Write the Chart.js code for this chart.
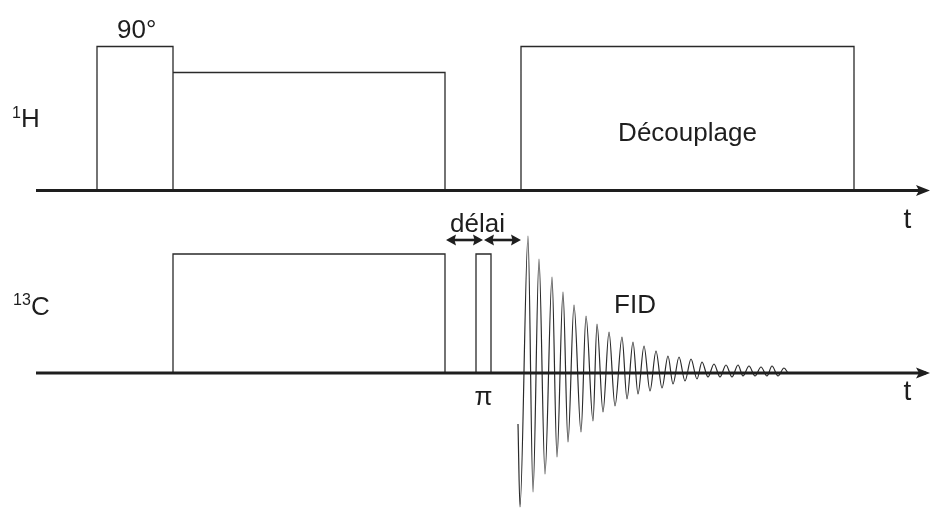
<!DOCTYPE html>
<html>
<head>
<meta charset="utf-8">
<script src="https://cdn.jsdelivr.net/npm/chart.js@4"></script>
<style>
  html, body { margin: 0; padding: 0; background: #fff; }
  #seq { display: block; }
</style>
</head>
<body>
<canvas id="seq" width="932" height="512"></canvas>
<script>
// time axis (arbitrary units)
const axisRange = [36, 926];

// 1H channel pulses
const hPulseStart = [97, 173, 521];
const hPulseEnd = [173, 445, 854];
const hPulseAmp = [144, 118, 144];

// 13C channel pulses (long pulse + pi pulse)
const cPulseStart = [173, 476];
const cPulseEnd = [445, 491];
const cPulseAmp = [119, 119];

// FID: extrema
const fidTime = [518, 520, 528, 533, 539, 545, 552, 557, 563, 568, 574, 581, 586, 593, 597, 603,
  609, 615, 622, 627, 633, 638, 644, 650, 656, 662, 668, 673, 679, 685, 691, 697, 702, 708,
  714, 720, 726, 732, 738, 743, 749, 755, 761, 767, 772, 778, 784, 788];
const fidAmp = [-51, -134, 137, -119, 114, -101, 96, -84, 81, -69, 68, -59, 57, -48, 49, -39,
  41, -33, 36, -26, 31, -21, 27, -18, 22, -15, 17, -11, 16, -8, 14, -6, 11, -4,
  9, -4, 8, -4, 8, -3, 7, -3, 6, -3, 7, -3, 5, 0];

// délai arrows (start, end)
const delayStart = [446, 484];
const delayEnd = [483, 521];

const INK = '#1e1e1e';
const FONT = '"Liberation Sans", Arial, sans-serif';

function pulsePoints(starts, ends, amps) {
  const pts = [];
  starts.forEach((s, i) => {
    pts.push({x: s, y: 0}, {x: s, y: amps[i]}, {x: ends[i], y: amps[i]}, {x: ends[i], y: 0});
    pts.push({x: ends[i], y: null});
  });
  return pts;
}

const labels = [
  {text: '90°', t: 136.7, v: 152.5, axis: 'yH', size: 26, align: 'center'},
  {text: 'Découplage', t: 687.5, v: 49.5, axis: 'yH', size: 26, align: 'center'},
  {text: 'H', t: 21, v: 63.5, axis: 'yH', size: 26, align: 'left'},
  {text: '1', t: 12, v: 72.5, axis: 'yH', size: 16, align: 'left'},
  {text: 't', t: 907.5, v: -37, axis: 'yH', size: 28, align: 'center'},
  {text: 'délai', t: 477.5, v: 141, axis: 'yC', size: 26, align: 'center'},
  {text: 'FID', t: 635, v: 60, axis: 'yC', size: 26, align: 'center'},
  {text: 'π', t: 483.5, v: -32, axis: 'yC', size: 26, align: 'center'},
  {text: 't', t: 907.5, v: -27, axis: 'yC', size: 28, align: 'center'},
  {text: 'C', t: 31, v: 58, axis: 'yC', size: 26, align: 'left'},
  {text: '13', t: 13, v: 68, axis: 'yC', size: 16, align: 'left'}
];

function arrowHead(ctx, x, y, dir, len, half, notch) {
  ctx.beginPath();
  ctx.moveTo(x, y);
  ctx.lineTo(x - dir * len, y - half);
  ctx.lineTo(x - dir * (len - notch), y);
  ctx.lineTo(x - dir * len, y + half);
  ctx.closePath();
  ctx.fill();
}

const decorPlugin = {
  id: 'decor',
  afterDatasetsDraw(chart) {
    const ctx = chart.ctx;
    const xs = chart.scales.x;
    ctx.save();
    ctx.fillStyle = INK;
    ctx.strokeStyle = INK;

    // time axis arrowheads
    ['yH', 'yC'].forEach(k => {
      const y = chart.scales[k].getPixelForValue(0);
      arrowHead(ctx, xs.getPixelForValue(axisRange[1]) + 4, y, 1, 14, 5.5, 3);
    });

    // délai double arrows
    const ya = chart.scales.yC.getPixelForValue(133);
    ctx.lineWidth = 2.6;
    delayStart.forEach((s, i) => {
      const x0 = xs.getPixelForValue(s), x1 = xs.getPixelForValue(delayEnd[i]);
      ctx.beginPath();
      ctx.moveTo(x0 + 5, ya);
      ctx.lineTo(x1 - 5, ya);
      ctx.stroke();
      arrowHead(ctx, x0, ya, -1, 10, 5.5, 1.5);
      arrowHead(ctx, x1, ya, 1, 10, 5.5, 1.5);
    });

    // text
    ctx.textBaseline = 'alphabetic';
    labels.forEach(l => {
      ctx.font = l.size + 'px ' + FONT;
      ctx.textAlign = l.align;
      ctx.fillText(l.text, xs.getPixelForValue(l.t), chart.scales[l.axis].getPixelForValue(l.v));
    });
    ctx.restore();
  }
};

const baseLine = [{x: axisRange[0], y: 0}, {x: axisRange[1], y: 0}];

new Chart(document.getElementById('seq'), {
  type: 'line',
  data: {
    datasets: [
      {label: '1H axis', data: baseLine, yAxisID: 'yH', borderColor: INK, borderWidth: 3},
      {label: '13C axis', data: baseLine, yAxisID: 'yC', borderColor: INK, borderWidth: 3},
      {label: '1H pulses', data: pulsePoints(hPulseStart, hPulseEnd, hPulseAmp), yAxisID: 'yH',
        borderColor: '#2a2a2a', borderWidth: 1.3, spanGaps: false},
      {label: '13C pulses', data: pulsePoints(cPulseStart, cPulseEnd, cPulseAmp), yAxisID: 'yC',
        borderColor: '#2a2a2a', borderWidth: 1.3, spanGaps: false},
      {label: 'FID', data: fidTime.map((t, i) => ({x: t, y: fidAmp[i]})), yAxisID: 'yC',
        borderColor: '#2a2a2a', borderWidth: 1.2, tension: 0.4, cubicInterpolationMode: 'monotone'}
    ]
  },
  options: {
    responsive: false,
    animation: false,
    events: [],
    layout: {padding: 0},
    elements: {point: {radius: 0}, line: {fill: false, tension: 0}},
    plugins: {legend: {display: false}, tooltip: {enabled: false}},
    scales: {
      x: {type: 'linear', min: 0, max: 932, display: false},
      yH: {type: 'linear', position: 'left', min: -321.5, max: 190.5, display: false},
      yC: {type: 'linear', position: 'left', min: -139, max: 373, display: false}
    }
  },
  plugins: [decorPlugin]
});
</script>
</body>
</html>
